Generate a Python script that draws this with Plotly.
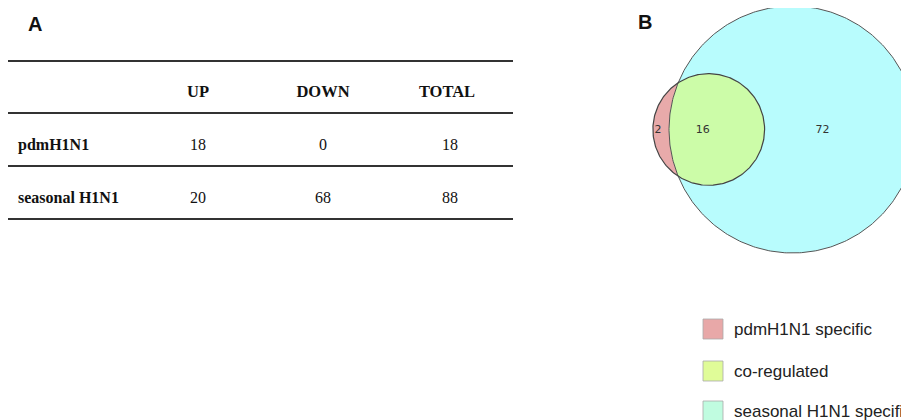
import numpy as np
import plotly.graph_objects as go

# ---- data ----
table_cols = ["UP", "DOWN", "TOTAL"]
table_rows = ["pdmH1N1", "seasonal H1N1"]
up_vals = [18, 20]
down_vals = [0, 68]
total_vals = [18, 88]

venn_labels = ["pdmH1N1 specific", "co-regulated", "seasonal H1N1 specifi"]
venn_counts = [2, 16, 72]  # pdm only, both, seasonal only

# ---- figure in pixel coordinates (page has an 8px body margin) ----
W, H = 909, 420
OFF = 8
fig = go.Figure()

serif = "Liberation Serif, Times New Roman, serif"
sans = "Liberation Sans, Arial, sans-serif"

# Panel A: table
col_x = [198, 323, 447]
row_y = [146, 199]
header_y = 93
tfont = dict(family=serif, size=16, color="#111")
fig.add_trace(go.Scatter(x=col_x, y=[header_y] * 3, mode="text",
                         text=[f"<b>{c}</b>" for c in table_cols],
                         textfont=dict(family=serif, size=16.5, color="#111"),
                         hoverinfo="skip", showlegend=False, cliponaxis=False))
fig.add_trace(go.Scatter(x=[18] * 2, y=row_y, mode="text", text=[f"<b>{r}</b>" for r in table_rows],
                         textposition="middle right", textfont=tfont,
                         hoverinfo="skip", showlegend=False, cliponaxis=False))
for cx, vals in zip([198, 323, 450], [up_vals, down_vals, total_vals]):
    fig.add_trace(go.Scatter(x=[cx] * 2, y=row_y, mode="text", text=[str(v) for v in vals],
                             textfont=tfont, hoverinfo="skip", showlegend=False, cliponaxis=False))

for ly in [61, 113, 166, 219]:
    fig.add_shape(type="line", x0=8, x1=513, y0=ly, y1=ly, line=dict(color="#333", width=2.2))

fig.add_annotation(x=35, y=24, text="<b>A</b>", showarrow=False,
                   font=dict(family=sans, size=20, color="#111"))
fig.add_annotation(x=645, y=22, text="<b>B</b>", showarrow=False,
                   font=dict(family=sans, size=20, color="#111"))

# Panel B: area-proportional Venn
pdm_total = venn_counts[0] + venn_counts[1]
sea_total = venn_counts[1] + venn_counts[2]
k = 123.5 / np.sqrt(sea_total)
r1 = k * np.sqrt(pdm_total)
r2 = k * np.sqrt(sea_total)
target = np.pi * k * k * venn_counts[1]


def lens_area(d, a, b):
    if d >= a + b:
        return 0.0
    if d <= abs(a - b):
        return np.pi * min(a, b) ** 2
    t1 = a * a * np.arccos((d * d + a * a - b * b) / (2 * d * a))
    t2 = b * b * np.arccos((d * d + b * b - a * a) / (2 * d * b))
    t3 = 0.5 * np.sqrt((-d + a + b) * (d + a - b) * (d - a + b) * (d + a + b))
    return t1 + t2 - t3


lo, hi = abs(r2 - r1) + 1e-6, r1 + r2
for _ in range(100):
    mid = (lo + hi) / 2
    if lens_area(mid, r1, r2) > target:
        lo = mid
    else:
        hi = mid
d = (lo + hi) / 2

c2 = np.array([792.5, 129.5])
c1 = np.array([c2[0] - d, c2[1]])

xa = (d * d + r1 * r1 - r2 * r2) / (2 * d)
ha = np.sqrt(max(r1 * r1 - xa * xa, 0))
ang1 = np.arctan2(ha, xa)
ang2 = np.arctan2(ha, xa - d)


def arc(c, r, a0, a1, n=200):
    t = np.linspace(a0, a1, n)
    return c[0] + r * np.cos(t), c[1] + r * np.sin(t)


# seasonal circle
x, y = arc(c2, r2, 0, 2 * np.pi, 400)
fig.add_trace(go.Scatter(x=x, y=y, mode="lines", fill="toself", fillcolor="#b8fcfd",
                         line=dict(width=0), hoverinfo="skip", showlegend=False))
# pdm-only lune
lx1, ly1 = arc(c1, r1, ang1, 2 * np.pi - ang1)
lx2, ly2 = arc(c2, r2, 2 * np.pi - ang2, ang2)
fig.add_trace(go.Scatter(x=np.r_[lx1, lx2], y=np.r_[ly1, ly2], mode="lines", fill="toself",
                         fillcolor="#e8aaaa", line=dict(width=0), hoverinfo="skip", showlegend=False))
# intersection lens
ix1, iy1 = arc(c1, r1, -ang1, ang1)
ix2, iy2 = arc(c2, r2, ang2, 2 * np.pi - ang2)
fig.add_trace(go.Scatter(x=np.r_[ix1, ix2], y=np.r_[iy1, iy2], mode="lines", fill="toself",
                         fillcolor="#ccfca8", line=dict(width=0), hoverinfo="skip", showlegend=False))
# outlines
x, y = arc(c2, r2, 0, 2 * np.pi, 400)
fig.add_trace(go.Scatter(x=x, y=y, mode="lines", line=dict(color="#555", width=1),
                         hoverinfo="skip", showlegend=False))
x, y = arc(c1, r1, 0, 2 * np.pi, 300)
fig.add_trace(go.Scatter(x=x, y=y, mode="lines", line=dict(color="#444", width=1.2),
                         hoverinfo="skip", showlegend=False))

# region labels
lune_mid = (c1[0] - r1 + c2[0] - r2) / 2
lens_mid = (c2[0] - r2 + c1[0] + r1) / 2
lab_x = [lune_mid - 3, lens_mid - 14, c2[0] + 30]
fig.add_trace(go.Scatter(x=lab_x, y=[c1[1] + 1] * 3, mode="text", text=[str(v) for v in venn_counts],
                         textfont=dict(family="DejaVu Sans, sans-serif", size=11, color="#333"),
                         hoverinfo="skip", showlegend=False))

# legend
leg_colors = ["#e8a8a8", "#e0fc98", "#c0fce0"]
leg_y = [329, 371, 411]
for lbl, col, yy in zip(venn_labels, leg_colors, leg_y):
    fig.add_shape(type="rect", x0=703, x1=723, y0=yy - 10, y1=yy + 10,
                  fillcolor=col, line=dict(color="#aaa", width=0.8))
    fig.add_annotation(x=732, y=yy, text=lbl, showarrow=False, xanchor="left",
                       font=dict(family=sans, size=17, color="#222"))

fig.update_layout(
    width=W - OFF, height=H - OFF, margin=dict(l=0, r=0, t=0, b=0),
    paper_bgcolor="white", plot_bgcolor="white",
    xaxis=dict(range=[OFF, W], visible=False, fixedrange=True),
    yaxis=dict(range=[H, OFF], visible=False, fixedrange=True),
    showlegend=False,
)
fig.write_html("out.html", config={"displayModeBar": False})
